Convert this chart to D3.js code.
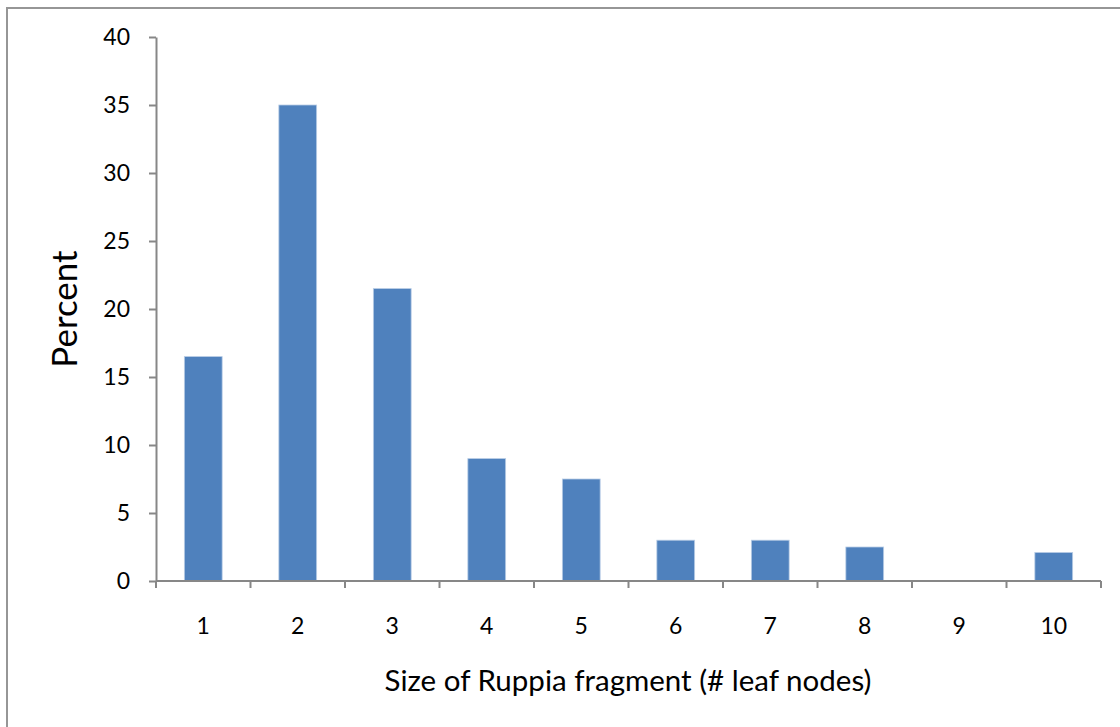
<!DOCTYPE html>
<html>
<head>
    <meta charset="utf-8">
    <title>Ruppia fragment size</title>
    <script src="https://cdn.jsdelivr.net/npm/d3@7"></script>
    <style>
        body { margin: 0; background: #fff; }
        text { font-family: Lato, "Open Sans", sans-serif; fill: #000; }
    </style>
</head>
<body>
    <div id="chart"></div>
    <script>

        // leaf node count categories and the percent of fragments in each
        var sizes = ["1", "2", "3", "4", "5", "6", "7", "8", "9", "10"];
        var percents = [16.5, 35, 21.5, 9, 7.5, 3, 3, 2.5, 0, 2.1];
        var yTicks = [0, 5, 10, 15, 20, 25, 30, 35, 40];

        var width = 1120, height = 727;
        var margin = { left: 156, right: 19, top: 37, bottom: 146 };

        var svg = d3.select("#chart").append("svg")
            .attr("width", width)
            .attr("height", height);

        // outer chart frame
        svg.append("rect")
            .attr("x", 7).attr("y", 8)
            .attr("width", width + 20).attr("height", height + 20)
            .attr("fill", "none")
            .attr("stroke", "#969696")
            .attr("stroke-width", 2);

        var x = d3.scaleBand()
            .domain(sizes)
            .range([margin.left, width - margin.right])
            .paddingInner(0.6)
            .paddingOuter(0.3);

        var y = d3.scaleLinear()
            .domain([0, 40])
            .range([height - margin.bottom, margin.top]);

        // bars
        svg.selectAll("rect.bar")
            .data(percents)
            .enter()
            .append("rect")
                .attr("class", "bar")
                .attr("x", function(d, i) { return x(sizes[i]); })
                .attr("y", function(d) { return y(d); })
                .attr("width", x.bandwidth())
                .attr("height", function(d) { return y(0) - y(d); })
                .attr("fill", "#4f81bd")
                .attr("stroke", "#b9cde5")
                .attr("stroke-width", function(d) { return d > 0 ? 0.8 : 0; });

        // y axis
        var yAxis = svg.append("g")
            .attr("transform", "translate(" + margin.left + ",0)")
            .call(d3.axisLeft(y).tickValues(yTicks).tickSize(7).tickPadding(19).tickSizeOuter(0));

        yAxis.selectAll("text").style("font-size", "23px");

        // x axis: ticks sit between categories, like the original
        var xEdges = d3.range(sizes.length + 1).map(function(i) {
            return margin.left + i * (width - margin.right - margin.left) / sizes.length;
        });

        var xAxis = svg.append("g")
            .attr("transform", "translate(0," + y(0) + ")");

        xAxis.append("line")
            .attr("x1", xEdges[0]).attr("x2", xEdges[xEdges.length - 1])
            .attr("y1", 0).attr("y2", 0);

        xAxis.selectAll("line.tick")
            .data(xEdges)
            .enter()
            .append("line")
                .attr("class", "tick")
                .attr("x1", function(d) { return d; })
                .attr("x2", function(d) { return d; })
                .attr("y1", 0).attr("y2", 7);

        xAxis.selectAll("text")
            .data(sizes)
            .enter()
            .append("text")
                .attr("x", function(d) { return x(d) + x.bandwidth() / 2; })
                .attr("y", 53)
                .attr("text-anchor", "middle")
                .style("font-size", "23px")
                .text(function(d) { return d; });

        svg.selectAll(".domain, .tick line, line.tick, g line")
            .attr("stroke", "#878787")
            .attr("stroke-width", 2);

        // axis titles
        svg.append("text")
            .attr("x", 628)
            .attr("y", 691)
            .attr("text-anchor", "middle")
            .style("font-size", "29.5px")
            .text("Size of Ruppia fragment (# leaf nodes)");

        svg.append("text")
            .attr("transform", "translate(77,309) rotate(-90)")
            .attr("text-anchor", "middle")
            .style("font-size", "35px")
            .text("Percent");

    </script>
</body>
</html>
